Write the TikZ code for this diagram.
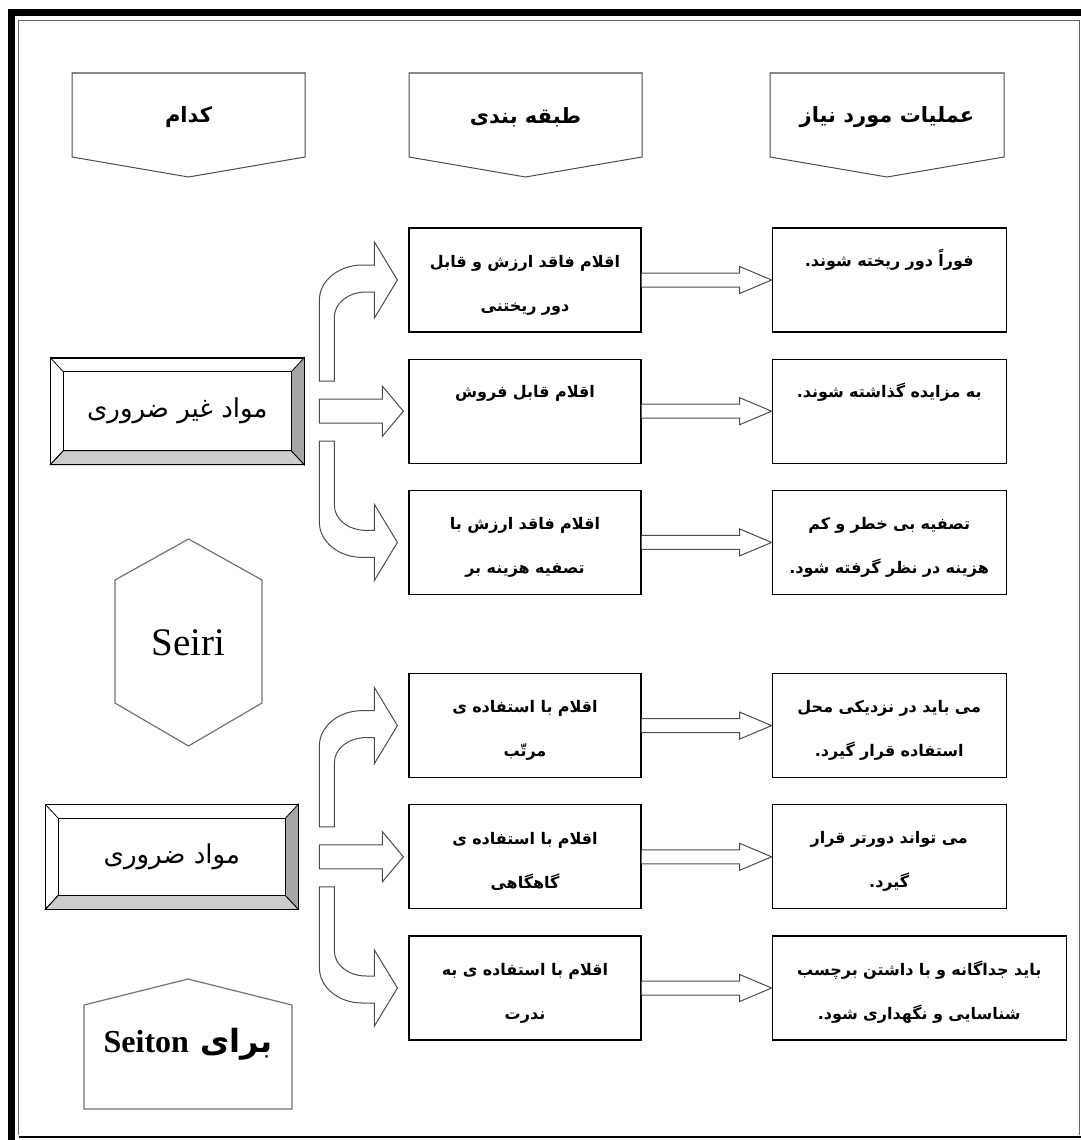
\documentclass[tikz,border=0pt]{standalone}
\usepackage{fontspec}
\setmainfont{Liberation Serif}
\newfontfamily\arabicfont[Script=Arabic]{DejaVu Sans}
\TeXXeTstate=1
\usetikzlibrary{positioning, calc}
\newcommand{\fa}[1]{{\arabicfont\beginR #1\endR}}
\tikzset{midbox/.style={draw, line width=1.2pt, minimum height=104pt, text width=220pt, inner xsep=6pt, inner ysep=0pt, text height=22pt, align=center, font=\fontsize{16}{44}\selectfont\bfseries}}
\tikzset{actbox/.style={midbox, text width=222pt}}
\tikzset{oneline/.style={text depth=49pt}}
\tikzset{bevel/.style={draw, line width=1.2pt, fill=white, minimum width=253pt, minimum height=106pt, font=\fontsize{26}{30}\selectfont}}
\tikzset{headline/.style={draw=black!70, line width=1pt}}
\tikzset{headtext/.style={font=\fontsize{21}{25}\selectfont\bfseries}}
\tikzset{shapeline/.style={draw=black!55, line width=1.2pt}}
\tikzset{fatarrow/.style={draw=black!70, line width=1pt, fill=white}}
\tikzset{hollow/.style={fatarrow, to path={($(\tikztostart)+(0,-7)$) -- ($(\tikztotarget)+(-32,-7)$) -- ($(\tikztotarget)+(-32,-13.5)$) -- (\tikztotarget) -- ($(\tikztotarget)+(-32,13.5)$) -- ($(\tikztotarget)+(-32,7)$) -- ($(\tikztostart)+(0,7)$)}}}
\tikzset{bendup/.style={fatarrow, to path={($(\tikztotarget|-\tikztostart)+(-89,-30)$) -- ($(\tikztotarget)+(-89,20)$) .. controls ($(\tikztotarget)+(-89,1)$) and ($(\tikztotarget)+(-70,-15)$) .. ($(\tikztotarget)+(-46,-15)$) -- ($(\tikztotarget)+(-34,-15)$) -- ($(\tikztotarget)+(-34,-38)$) -- ($(\tikztotarget)+(-11,0)$) -- ($(\tikztotarget)+(-34,38)$) -- ($(\tikztotarget)+(-34,12)$) -- ($(\tikztotarget)+(-42,12)$) .. controls ($(\tikztotarget)+(-60,12)$) and ($(\tikztotarget)+(-74,23)$) .. ($(\tikztotarget)+(-74,37)$) -- ($(\tikztotarget|-\tikztostart)+(-74,-30)$) -- cycle}}}
\tikzset{benddown/.style={fatarrow, to path={($(\tikztotarget|-\tikztostart)+(-89,30)$) -- ($(\tikztotarget)+(-89,-20)$) .. controls ($(\tikztotarget)+(-89,-1)$) and ($(\tikztotarget)+(-70,15)$) .. ($(\tikztotarget)+(-46,15)$) -- ($(\tikztotarget)+(-34,15)$) -- ($(\tikztotarget)+(-34,38)$) -- ($(\tikztotarget)+(-11,0)$) -- ($(\tikztotarget)+(-34,-38)$) -- ($(\tikztotarget)+(-34,-12)$) -- ($(\tikztotarget)+(-42,-12)$) .. controls ($(\tikztotarget)+(-60,-12)$) and ($(\tikztotarget)+(-74,-23)$) .. ($(\tikztotarget)+(-74,-37)$) -- ($(\tikztotarget|-\tikztostart)+(-74,30)$) -- cycle}}}
\tikzset{straight/.style={fatarrow, to path={($(\tikztotarget|-\tikztostart)+(-89,-12)$) -- ($(\tikztotarget|-\tikztostart)+(-26,-12)$) -- ($(\tikztotarget|-\tikztostart)+(-26,-25)$) -- ($(\tikztotarget|-\tikztostart)+(-5,0)$) -- ($(\tikztotarget|-\tikztostart)+(-26,25)$) -- ($(\tikztotarget|-\tikztostart)+(-26,12)$) -- ($(\tikztotarget|-\tikztostart)+(-89,12)$) -- cycle}}}
% shaded rims of the raised boxes
\newcommand{\bevelfaces}[1]{%
\filldraw[fill=gray!40, line width=0.8pt] (#1.south west) -- (#1.south east) -- ($(#1.south east)+(-13,-14)$) -- ($(#1.south west)+(13,-14)$) -- cycle;
\filldraw[fill=gray!70, line width=0.8pt] (#1.south east) -- (#1.north east) -- ($(#1.north east)+(-13,14)$) -- ($(#1.south east)+(-13,-14)$) -- cycle;
\draw[line width=0.8pt] (#1.north west) -- ($(#1.north west)+(13,14)$) (#1.south west) -- ($(#1.south west)+(13,-14)$);
\draw[line width=1.2pt] ($(#1.north west)+(13,14)$) rectangle ($(#1.south east)+(-13,-14)$);
\draw[line width=1.2pt] (#1.north west) rectangle (#1.south east);}

\begin{document}
\begin{tikzpicture}[x=1pt, y=-1pt]
\useasboundingbox (0,0) rectangle (1081,1140);
% page frame
\draw[line width=7pt] (11.5,1140) -- (11.5,12.5) -- (1081,12.5);
\draw[black!60, line width=0.8pt] (18.5,1135) -- (18.5,20) -- (1079.5,20) -- (1079.5,1135);
\draw[line width=2pt] (18.5,1137) -- (1081,1137);

% column heads
\draw[headline] (72,73) -- (305,73) -- (305,157) -- (188.5,177) -- (72,157) -- cycle;
\draw[headline] (409,73) -- (642,73) -- (642,157) -- (525.5,177) -- (409,157) -- cycle;
\draw[headline] (770,73) -- (1004,73) -- (1004,157) -- (887,177) -- (770,157) -- cycle;
\node[headtext] (hwhich) at (188.5,117) {\fa{کدام}};
\node[headtext] (hclass) at (525.5,117) {\fa{طبقه بندی}};
\node[headtext] (hact) at (887,117) {\fa{عملیات مورد نیاز}};

\node[midbox] (m1) at (525,280) {\fa{اقلام فاقد ارزش و قابل}\\\fa{دور ریختنی}};
\node[midbox, oneline, below=26pt of m1] (m2) {\fa{اقلام قابل فروش}};
\node[midbox, below=26pt of m2] (m3) {\fa{اقلام فاقد ارزش با}\\\fa{تصفیه هزینه بر}};
\node[midbox, below=78pt of m3] (m4) {\fa{اقلام با استفاده ی}\\\fa{مرتّب}};
\node[midbox, below=26pt of m4] (m5) {\fa{اقلام با استفاده ی}\\\fa{گاهگاهی}};
\node[midbox, below=26pt of m5] (m6) {\fa{اقلام با استفاده ی به}\\\fa{ندرت}};

\node[actbox, oneline, right=130pt of m1] (r1) {\fa{فوراً دور ریخته شوند.}};
\node[actbox, oneline, right=130pt of m2] (r2) {\fa{به مزایده گذاشته شوند.}};
\node[actbox, right=130pt of m3] (r3) {\fa{تصفیه بی خطر و کم}\\\fa{هزینه در نظر گرفته شود.}};
\node[actbox, right=130pt of m4] (r4) {\fa{می باید در نزدیکی محل}\\\fa{استفاده قرار گیرد.}};
\node[actbox, right=130pt of m5] (r5) {\fa{می تواند دورتر قرار}\\\fa{گیرد.}};
\node[actbox, right=130pt of m6, text width=282pt] (r6) {\fa{باید جداگانه و با داشتن برچسب}\\\fa{شناسایی و نگهداری شود.}};

\node[bevel, left=104pt of m2] (bev1) {\fa{مواد غیر ضروری}};
\node[bevel, left=110pt of m5, minimum width=252pt, minimum height=104pt] (bev2) {\fa{مواد ضروری}};
\bevelfaces{bev1}
\bevelfaces{bev2}

% Seiri and Seiton signs
\draw[shapeline] (188.5,539) -- (262,580) -- (262,703) -- (188.5,746) -- (115,703) -- (115,580) -- cycle;
\node[font=\fontsize{39}{40}\selectfont] (seiri) at (188.5,643) {Seiri};
\draw[shapeline] (188,979) -- (292,1005) -- (292,1109) -- (84,1109) -- (84,1005) -- cycle;
\node[font=\fontsize{32}{34}\selectfont\bfseries] (seiton) at (188,1044) {{\arabicfont\beginR برای \beginL{\rmfamily\bfseries Seiton}\endL\endR}};

\draw[bendup] (bev1.east) to (m1.west);
\draw[straight] (bev1.east) to (m2.west);
\draw[benddown] (bev1.east) to (m3.west);
\draw[bendup] (bev2.east) to (m4.west);
\draw[straight] (bev2.east) to (m5.west);
\draw[benddown] (bev2.east) to (m6.west);

\draw[hollow] (m1.east) to (r1.west);
\draw[hollow] (m2.east) to (r2.west);
\draw[hollow] (m3.east) to (r3.west);
\draw[hollow] (m4.east) to (r4.west);
\draw[hollow] (m5.east) to (r5.west);
\draw[hollow] (m6.east) to (r6.west);
\end{tikzpicture}
\end{document}
